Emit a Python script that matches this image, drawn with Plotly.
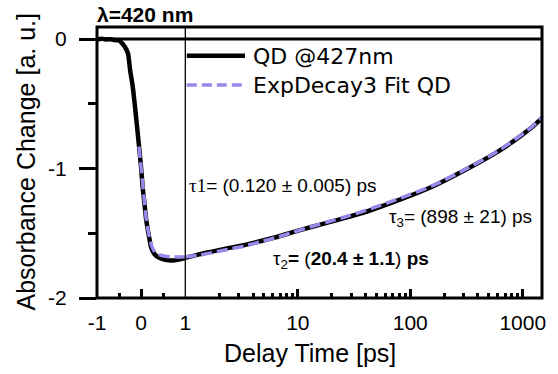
import plotly.graph_objects as go

# ---------------- data ----------------
time_ps = [-1.0, -0.9, -0.8, -0.7, -0.6, -0.5, -0.44, -0.37, -0.30, -0.25, -0.19, -0.15,
           -0.107, -0.07, -0.033, 0.0, 0.033, 0.07, 0.116, 0.17, 0.227, 0.30, 0.41, 0.55,
           0.70, 0.85, 1.0, 1.3, 1.72, 2.4, 3.37, 4.7, 6.6, 9.2, 12.9, 18, 25.4, 40.6,
           79.7, 156, 307, 601, 1177, 1500]
dA_data = [-0.005, 0.002, -0.003, -0.002, -0.008, -0.012, -0.03, -0.06, -0.11, -0.24, -0.37, -0.49,
           -0.63, -0.755, -0.88, -1.0, -1.14, -1.256, -1.40, -1.51, -1.61, -1.66, -1.69, -1.705,
           -1.71, -1.703, -1.69, -1.665, -1.642, -1.615, -1.591, -1.56, -1.527, -1.49, -1.454, -1.42,
           -1.385, -1.334, -1.243, -1.141, -1.012, -0.870, -0.690, -0.605]

time_fit = [-0.05, -0.02, 0.0, 0.03, 0.07, 0.116, 0.17, 0.227, 0.30, 0.40, 0.55, 0.70, 0.85, 1.0,
            1.3, 1.72, 2.4, 3.37, 4.7, 6.6, 9.2, 12.9, 18, 25.4, 40.6, 79.7, 156, 307, 601, 1177, 1500]
dA_fit = [-0.83, -0.93, -1.0, -1.10, -1.24, -1.39, -1.50, -1.585, -1.64, -1.665, -1.678, -1.683,
          -1.684, -1.682, -1.67, -1.65, -1.625, -1.598, -1.565, -1.53, -1.49, -1.452, -1.415,
          -1.378, -1.322, -1.232, -1.135, -1.008, -0.866, -0.686, -0.598]

lin_ticks = [-1, 0, 1]
lin_ticktext = ["-1", "0", "1"]
log_ticks = [10, 100, 1000]
log_ticktext = ["10", "100", "1000"]
y_ticks = [0, -1, -2]
y_ticktext = ["0", "-1", "-2"]

data_name = "QD @427nm"
fit_name = "ExpDecay3 Fit QD"

# ---------------- geometry ----------------
W, H = 558, 374
L, R, T, B = 97, 548, 27, 298
PW, PH = R - L, B - T
split = (186.5 - L) / PW


def px(x):
    return (x - L) / PW


def py(y):
    return (B - y) / PH


BLACK = "black"
PURPLE = "#9b87eb"
SANS = "Liberation Sans, Arial, sans-serif"
SERIF = "Liberation Serif, Times New Roman, serif"

fig = go.Figure()


def part(ts, ys, lin):
    pts = [(t, y) for t, y in zip(ts, ys) if (t <= 1.0 if lin else t >= 1.0)]
    return [p[0] for p in pts], [p[1] for p in pts]


for lin, xa in ((True, "x"), (False, "x2")):
    tx, ty = part(time_ps, dA_data, lin)
    fig.add_trace(go.Scatter(x=tx, y=ty, xaxis=xa, yaxis="y", mode="lines",
                             name=data_name, showlegend=False,
                             line=dict(color=BLACK, width=4.5, shape="spline", smoothing=0.7)))
for lin, xa in ((True, "x"), (False, "x2")):
    tx, ty = part(time_fit, dA_fit, lin)
    fig.add_trace(go.Scatter(x=tx, y=ty, xaxis=xa, yaxis="y", mode="lines",
                             name=fit_name, showlegend=False,
                             line=dict(color=PURPLE, width=3.5, dash="11px,5px",
                                       shape="spline", smoothing=0.7)))

tickfont = dict(family=SANS, size=21, color=BLACK)

fig.update_layout(
    width=W, height=H,
    margin=dict(l=L, r=W - R, t=T, b=H - B, pad=0),
    paper_bgcolor="white", plot_bgcolor="white",
    showlegend=False,
    xaxis=dict(domain=[0, split], range=[-1, 1], anchor="y",
               tickmode="array", tickvals=lin_ticks, ticktext=lin_ticktext,
               ticks="inside", ticklen=9, tickwidth=2.5, tickcolor=BLACK,
               minor=dict(tickmode="array", tickvals=[-0.5, 0.5], ticks="inside",
                          ticklen=5, tickwidth=2.5, tickcolor=BLACK, showgrid=False),
               showgrid=False, zeroline=False, showline=False,
               tickfont=tickfont, ticklabelstandoff=10),
    xaxis2=dict(domain=[split, 1], type="log", range=[0, 3.171], anchor="y",
                tickmode="array", tickvals=log_ticks, ticktext=log_ticktext,
                ticks="inside", ticklen=9, tickwidth=2.5, tickcolor=BLACK,
                minor=dict(tickmode="array",
                           tickvals=[m * d for d in (1, 10, 100) for m in range(2, 10)],
                           ticks="inside", ticklen=5, tickwidth=2.5, tickcolor=BLACK,
                           showgrid=False),
                showgrid=False, zeroline=False, showline=False,
                tickfont=tickfont, ticklabelstandoff=10),
    yaxis=dict(range=[-2, 0.0927], anchor="x",
               tickmode="array", tickvals=y_ticks, ticktext=y_ticktext,
               ticks="outside", ticklen=17, tickwidth=3, tickcolor=BLACK,
               minor=dict(tickmode="array", tickvals=[-0.5, -1.5], ticks="outside",
                          ticklen=8, tickwidth=3, tickcolor=BLACK, showgrid=False),
               showgrid=False, zeroline=False, showline=False,
               tickfont=tickfont, ticklabelstandoff=8),
)

shapes = [
    dict(type="rect", xref="paper", yref="paper", x0=0, x1=1, y0=0, y1=1,
         line=dict(color=BLACK, width=3), layer="above"),
    dict(type="line", xref="paper", yref="y", x0=0, x1=1, y0=0, y1=0,
         line=dict(color=BLACK, width=3), layer="above"),
    dict(type="line", xref="paper", yref="paper", x0=split, x1=split, y0=0, y1=1,
         line=dict(color=BLACK, width=1.3), layer="above"),
    dict(type="line", xref="paper", yref="paper", x0=px(188), x1=px(247),
         y0=py(55.7), y1=py(55.7), line=dict(color=BLACK, width=4.5)),
    dict(type="line", xref="paper", yref="paper", x0=px(188), x1=px(247),
         y0=py(85), y1=py(85), line=dict(color=PURPLE, width=3.5, dash="10px,5px")),
]
fig.update_layout(shapes=shapes)

ann = []
legfont = dict(family="DejaVu Sans, Verdana, sans-serif", size=22, color=BLACK)
ann.append(dict(text=data_name, x=px(253), y=py(56), xanchor="left", yanchor="middle",
                font=legfont))
ann.append(dict(text=fit_name, x=px(253), y=py(85.5), xanchor="left", yanchor="middle",
                font=legfont))
ann.append(dict(text="<b>λ=420 nm</b>", x=px(95), y=py(15), xanchor="left",
                yanchor="middle", font=dict(family=SANS, size=21, color=BLACK)))
ann.append(dict(text="Delay Time [ps]", x=px(313), y=py(353), xanchor="center",
                yanchor="middle", font=dict(family=SANS, size=25, color=BLACK)))
ann.append(dict(text="Absorbance Change [a. u.]", x=px(25), y=py(161.5), textangle=-90,
                xanchor="center", yanchor="middle",
                font=dict(family=SANS, size=25, color=BLACK)))
afont = dict(family=SANS, size=19, color=BLACK)
ann.append(dict(text=f'<span style="font-family:{SERIF}">τ1</span>= (0.120 ± 0.005) ps',
                x=px(188), y=py(185), xanchor="left", yanchor="middle", font=afont))
ann.append(dict(text="τ<sub>3</sub>= (898 ± 21) ps",
                x=px(540), y=py(218), xanchor="right", yanchor="middle", font=afont))
ann.append(dict(text="τ<sub>2</sub><b>=</b> (<b>20.4 ± 1.1</b>) <b>ps</b>",
                x=px(273), y=py(260), xanchor="left", yanchor="middle", font=afont))
for a in ann:
    a.update(xref="paper", yref="paper", showarrow=False)
fig.update_layout(annotations=ann)

fig.write_html("out.html",
               config={"displayModeBar": False},
               post_script="document.body.style.margin='0';"
                           "document.body.style.overflow='hidden';")
